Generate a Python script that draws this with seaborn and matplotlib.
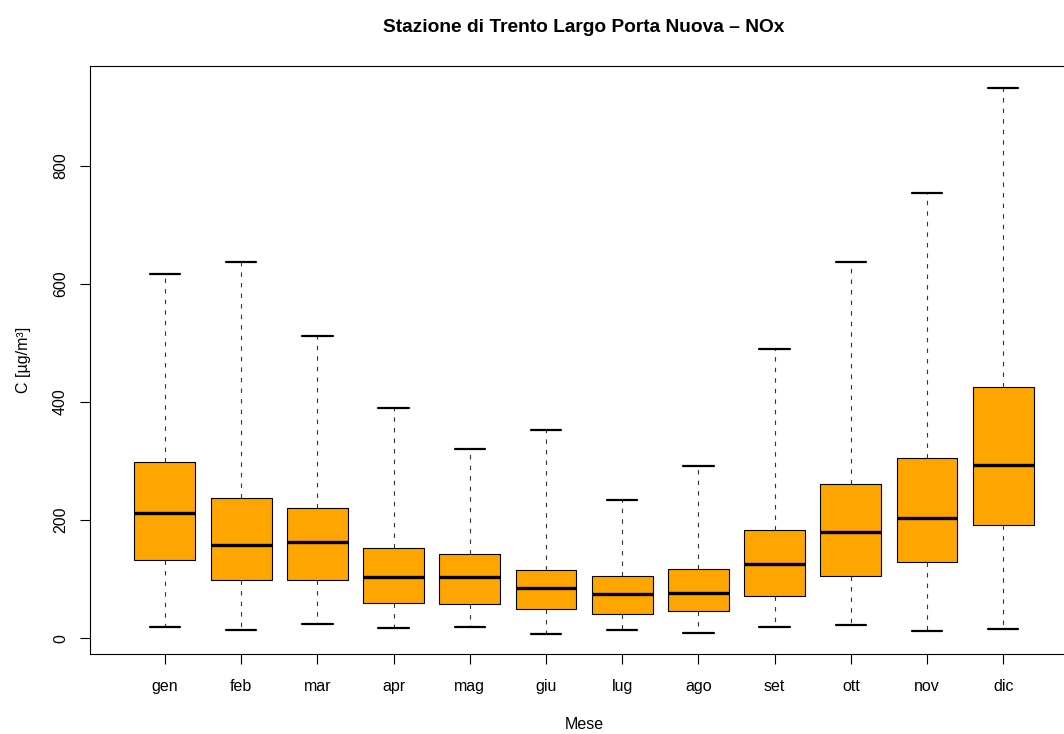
import numpy as np
import pandas as pd
import matplotlib
matplotlib.use("Agg")
import matplotlib.pyplot as plt
import seaborn as sns

# Month labels and box statistics (µg/m³)
months = ["gen", "feb", "mar", "apr", "mag", "giu", "lug", "ago", "set", "ott", "nov", "dic"]
whisker_low = [20, 14, 25, 17, 19, 8, 14, 9, 19, 22, 12, 16]
q1 = [132, 98, 98, 59, 58, 49, 41, 46, 71, 105, 130, 191]
median = [212, 158, 163, 103, 103, 85, 75, 76, 125, 180, 203, 293]
q3 = [298, 237, 220, 153, 142, 115, 105, 117, 183, 261, 306, 426]
whisker_high = [617, 637, 512, 390, 320, 353, 234, 292, 490, 636, 754, 932]

# Long table: five summary values per month so that quartiles/median/extremes are reproduced
rows = []
for i, m in enumerate(months):
    for v in (whisker_low[i], q1[i], median[i], q3[i], whisker_high[i]):
        rows.append({"Mese": m, "C": v})
df = pd.DataFrame(rows)

sns.set_style("ticks")
plt.rcParams["font.family"] = ["Liberation Sans", "DejaVu Sans"]
plt.rcParams["text.color"] = "black"
plt.rcParams["axes.labelcolor"] = "black"
plt.rcParams["xtick.color"] = "black"
plt.rcParams["ytick.color"] = "black"

W, H = 1064, 734
fig = plt.figure(figsize=(W / 100, H / 100), dpi=100)
ax = fig.add_axes([90.3 / W, 79.7 / H, 987.6 / W, 588.6 / H])

sns.boxplot(
    data=df, x="Mese", y="C", order=months, ax=ax,
    whis=(0, 100), width=0.8, color="#FFA500", saturation=1,
    linecolor="black", linewidth=0.8, showfliers=False,
    whiskerprops=dict(linestyle=(0, (4, 5.5)), linewidth=0.8, color="#333333"),
    capprops=dict(linewidth=1.6, color="black"),
    medianprops=dict(linewidth=2.4, color="black"),
    boxprops=dict(edgecolor="black", linewidth=0.8),
)

ax.set_xlim(-0.98, 11.98)
ax.set_ylim(-27, 969)
ax.set_yticks([0, 200, 400, 600, 800])
ax.set_yticklabels(["0", "200", "400", "600", "800"], rotation=90, va="center")
for s in ax.spines.values():
    s.set_visible(True)
    s.set_color("black")
    s.set_linewidth(0.8)
ax.tick_params(axis="both", length=7, width=0.8, color="black", labelcolor="black",
               labelsize=11.5)
ax.tick_params(axis="x", pad=11)
ax.tick_params(axis="y", pad=9)
ax.set_xlabel("Mese", fontsize=11.5, labelpad=16, color="black")
ax.set_ylabel("C [µg/m³]", fontsize=11.5, labelpad=16, color="black")
ax.set_title("Stazione di Trento Largo Porta Nuova \u2013 NOx", fontsize=13.8,
             fontweight="bold", pad=24, color="black")

fig.savefig("out.png", dpi=100)
